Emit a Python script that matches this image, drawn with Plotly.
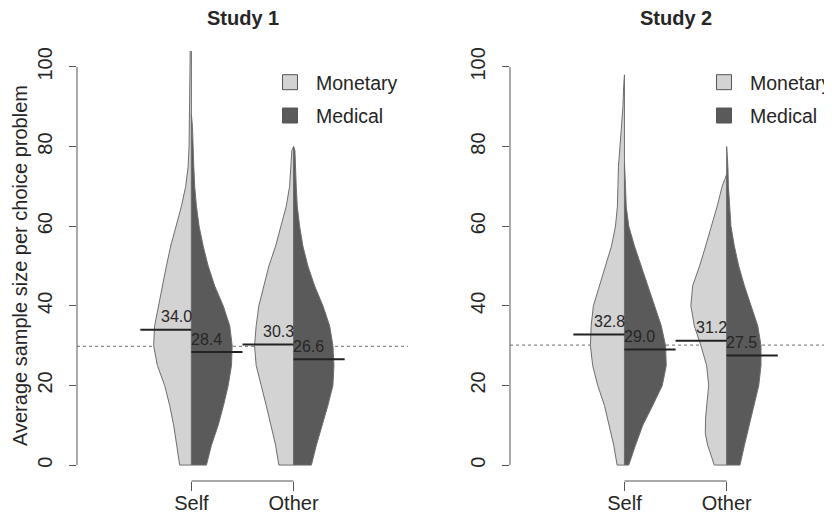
import plotly.graph_objects as go

# ---------------- data ----------------
categories = ["Self", "Other"]
cat_pos = [1, 2]
series_names = ["Monetary", "Medical"]
studies = ["Study 1", "Study 2"]

s1_mean_monetary = [34.0, 30.3]
s1_mean_medical = [28.4, 26.6]
s2_mean_monetary = [32.8, 31.2]
s2_mean_medical = [29.0, 27.5]

# density half-widths (in category-axis units) at sample-size levels
s1_self_mon_y = [0, 5, 10, 15, 20, 25, 30, 35, 40, 45, 50, 55, 60, 65, 70, 75, 80, 85, 90, 95, 100, 104, 106]
s1_self_mon_w = [0.115, 0.144, 0.174, 0.213, 0.262, 0.333, 0.370, 0.360, 0.324, 0.284, 0.245, 0.203,
                 0.147, 0.098, 0.056, 0.032, 0.023, 0.020, 0.015, 0.013, 0.012, 0.012, 0]
s1_self_med_y = [0, 5, 10, 15, 20, 25, 30, 35, 40, 45, 50, 55, 60, 65, 70, 75, 80, 85, 88]
s1_self_med_w = [0.147, 0.196, 0.262, 0.314, 0.360, 0.392, 0.399, 0.375, 0.311, 0.228, 0.164, 0.115,
                 0.075, 0.049, 0.032, 0.023, 0.017, 0.010, 0]
s1_other_mon_y = [0, 5, 10, 15, 20, 25, 30, 35, 40, 45, 50, 55, 60, 65, 70, 75, 79, 80]
s1_other_mon_w = [0.144, 0.176, 0.219, 0.268, 0.317, 0.366, 0.382, 0.366, 0.340, 0.294, 0.242, 0.176,
                  0.121, 0.072, 0.039, 0.023, 0.017, 0]
s1_other_med_y = [0, 5, 10, 15, 20, 25, 30, 35, 40, 45, 50, 55, 60, 65, 70, 75, 79, 80]
s1_other_med_w = [0.174, 0.223, 0.281, 0.336, 0.385, 0.395, 0.385, 0.353, 0.287, 0.206, 0.140, 0.091,
                  0.059, 0.036, 0.026, 0.020, 0.013, 0]

s2_self_mon_y = [0, 5, 10, 15, 20, 25, 30, 35, 40, 45, 50, 55, 60, 65, 70, 75, 80, 85, 90, 95, 98]
s2_self_mon_w = [0.072, 0.105, 0.147, 0.196, 0.262, 0.311, 0.333, 0.326, 0.304, 0.245, 0.179, 0.127,
                 0.088, 0.069, 0.064, 0.059, 0.044, 0.026, 0.015, 0.008, 0]
s2_self_med_y = [0, 5, 10, 15, 20, 25, 30, 35, 40, 45, 50, 55, 60, 65, 70, 75, 76]
s2_self_med_w = [0.042, 0.108, 0.179, 0.277, 0.370, 0.409, 0.402, 0.360, 0.294, 0.228, 0.164, 0.098,
                 0.042, 0.017, 0.010, 0.005, 0]
s2_other_mon_y = [0, 5, 8, 12, 15, 20, 25, 30, 35, 40, 45, 50, 55, 60, 65, 70, 73]
s2_other_mon_w = [0.121, 0.186, 0.209, 0.206, 0.196, 0.176, 0.196, 0.252, 0.317, 0.350, 0.333, 0.265,
                  0.206, 0.147, 0.093, 0.044, 0]
s2_other_med_y = [0, 5, 10, 15, 20, 25, 30, 35, 40, 45, 50, 55, 60, 65, 70, 75, 79, 80]
s2_other_med_w = [0.130, 0.174, 0.223, 0.272, 0.314, 0.336, 0.336, 0.304, 0.238, 0.174, 0.118, 0.075,
                  0.042, 0.026, 0.017, 0.012, 0.008, 0]

y_ticks = [0, 20, 40, 60, 80, 100]

# ---------------- style ----------------
FONT = "Liberation Sans, Arial, Helvetica, sans-serif"
TXT = "#262626"
LIGHT = "#d3d3d3"
DARK = "#5a5a5a"
OUTLINE = "#6e6e6e"
PAGE_W, PAGE_H = 832, 515
BODY = 8                      # default page body margin around the figure
W, H = PAGE_W - BODY, PAGE_H - BODY

fig = go.Figure()

study_data = [
    dict(ax="", leg="legend",
         means=(s1_mean_monetary, s1_mean_medical),
         halves=[((s1_self_mon_y, s1_self_mon_w), (s1_self_med_y, s1_self_med_w)),
                 ((s1_other_mon_y, s1_other_mon_w), (s1_other_med_y, s1_other_med_w))]),
    dict(ax="2", leg="legend2",
         means=(s2_mean_monetary, s2_mean_medical),
         halves=[((s2_self_mon_y, s2_self_mon_w), (s2_self_med_y, s2_self_med_w)),
                 ((s2_other_mon_y, s2_other_mon_w), (s2_other_med_y, s2_other_med_w))]),
]

XR = [-0.12, 3.12]

for sd in study_data:
    xa, ya = "x" + sd["ax"], "y" + sd["ax"]
    mon_means, med_means = sd["means"]
    grand = (sum(mon_means) + sum(med_means)) / 4.0
    # dotted grand mean line (beneath violins)
    fig.add_trace(go.Scatter(x=XR, y=[grand, grand], mode="lines", xaxis=xa, yaxis=ya,
                             line=dict(color="#8a8a8a", width=1.2, dash="dot"),
                             showlegend=False, hoverinfo="skip"))
    for ci, c in enumerate(cat_pos):
        for side, ((ys, ws), color) in enumerate(zip(sd["halves"][ci], (LIGHT, DARK))):
            sign = -1 if side == 0 else 1
            px = [c] + [c + sign * w for w in ws] + [c, c]
            py = [ys[0]] + list(ys) + [ys[-1], ys[0]]
            fig.add_trace(go.Scatter(x=px, y=py, mode="lines", fill="toself", fillcolor=color,
                                     xaxis=xa, yaxis=ya,
                                     line=dict(color=OUTLINE, width=1),
                                     showlegend=False, hoverinfo="skip"))
    # mean lines
    for ci, c in enumerate(cat_pos):
        for side, m in enumerate((mon_means[ci], med_means[ci])):
            x0, x1 = (c - 0.5, c) if side == 0 else (c, c + 0.5)
            fig.add_trace(go.Scatter(x=[x0, x1], y=[m, m], mode="lines", xaxis=xa, yaxis=ya,
                                     line=dict(color="#222222", width=2),
                                     showlegend=False, hoverinfo="skip"))
            fig.add_annotation(x=c - 0.15 if side == 0 else c + 0.15, y=m, xref=xa, yref=ya,
                               text=f"{m:.1f}", showarrow=False, xanchor="center",
                               yanchor="middle", yshift=13,
                               font=dict(family=FONT, size=16, color=TXT))
    # legend entries
    for name, color in zip(series_names, (LIGHT, DARK)):
        fig.add_trace(go.Scatter(x=[None], y=[None], mode="markers", name=name,
                                 xaxis=xa, yaxis=ya, legend=sd["leg"], legendgroup=name + sd["ax"],
                                 marker=dict(symbol="square", size=15, color=color,
                                             line=dict(color="#555555", width=1))))

# ---------------- layout ----------------
def px2x(p):
    return (p - BODY) / W

def px2y(p):
    return 1 - (p - BODY) / H

ydom = [px2y(481), px2y(51)]
left_dom = [px2x(77), px2x(408)]
right_dom = [px2x(510), 1.0]
right_range = [-0.12, -0.12 + (PAGE_W - 510) / 102.2]

axis_common_x = dict(tickvals=cat_pos, ticktext=categories, ticks="outside", ticklen=9,
                     tickcolor="#555555", tickwidth=1, showline=False, showgrid=False,
                     zeroline=False, automargin=False, ticklabelstandoff=-5,
                     tickfont=dict(family=FONT, size=20, color=TXT))
axis_common_y = dict(range=[-4, 104], domain=ydom, tickvals=y_ticks, ticks="outside", ticklen=7,
                     tickcolor="#555555", tickwidth=1, showline=False, showgrid=False,
                     zeroline=False, tickangle=-90, automargin=False, ticklabelstandoff=9,
                     tickfont=dict(family=FONT, size=20, color=TXT))

legend_common = dict(xanchor="left", yanchor="top", itemwidth=42, tracegroupgap=5,
                     bgcolor="rgba(0,0,0,0)", font=dict(family=FONT, size=19.5, color=TXT))

fig.update_layout(
    width=W, height=H, margin=dict(l=0, r=0, t=0, b=0, autoexpand=False),
    paper_bgcolor="white", plot_bgcolor="white",
    xaxis=dict(domain=left_dom, range=XR, anchor="y", **axis_common_x),
    yaxis=dict(anchor="x", **axis_common_y),
    xaxis2=dict(domain=right_dom, range=right_range, anchor="y2", **axis_common_x),
    yaxis2=dict(anchor="x2", **axis_common_y),
    legend=dict(x=px2x(264), y=px2y(63), **legend_common),
    legend2=dict(x=px2x(698), y=px2y(63), **legend_common),
    showlegend=True,
)

# axis lines in R style: y axis only 0..100, x axis bracket only between categories
for ax, dom in (("", left_dom), ("2", right_dom)):
    fig.add_shape(type="line", xref="paper", yref="y" + ax, x0=dom[0], x1=dom[0],
                  y0=y_ticks[0], y1=y_ticks[-1], line=dict(color="#555555", width=1))
    fig.add_shape(type="line", xref="x" + ax, yref="paper", x0=cat_pos[0], x1=cat_pos[-1],
                  y0=ydom[0], y1=ydom[0], line=dict(color="#555555", width=1))

# titles
for title, (a, b) in zip(studies, ((77, 408), (510, 841))):
    fig.add_annotation(x=px2x((a + b) / 2), y=px2y(18), xref="paper", yref="paper",
                       text=f"<b>{title}</b>", showarrow=False, xanchor="center",
                       yanchor="middle", font=dict(family=FONT, size=20, color=TXT))

fig.add_annotation(x=px2x(20), y=(ydom[0] + ydom[1]) / 2, xref="paper", yref="paper",
                   text="Average sample size per choice problem", textangle=-90,
                   showarrow=False, xanchor="center", yanchor="middle",
                   font=dict(family=FONT, size=20, color=TXT))

fig.write_html("out.html")
